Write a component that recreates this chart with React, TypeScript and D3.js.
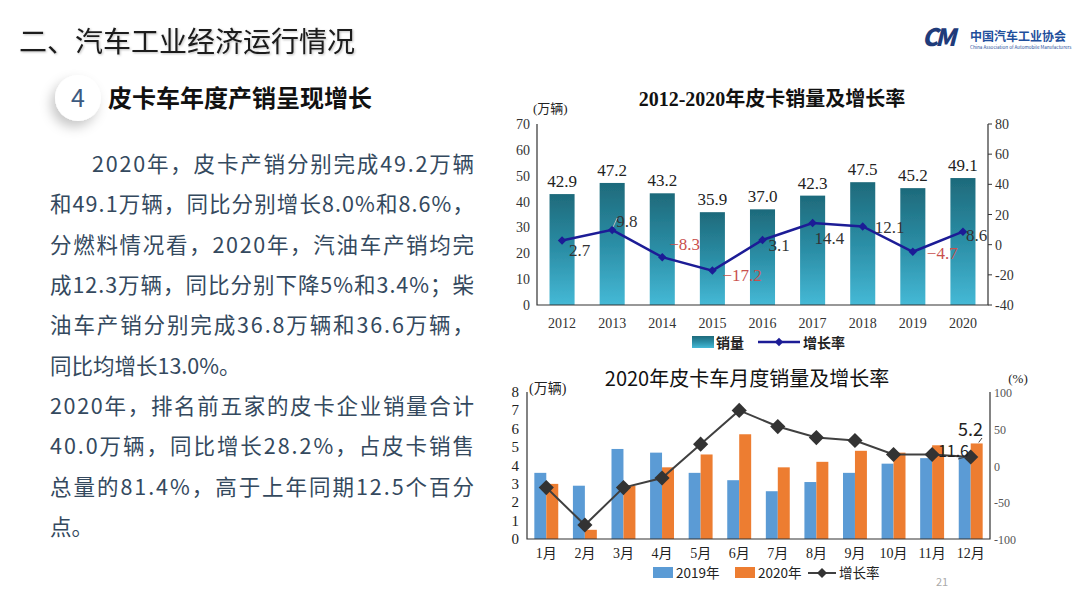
import * as d3 from "d3";
import { useEffect } from "react";

// 年度数据
const years = ["2012", "2013", "2014", "2015", "2016", "2017", "2018", "2019", "2020"];
const yearSales = [42.9, 47.2, 43.2, 35.9, 37.0, 42.3, 47.5, 45.2, 49.1];
const yearRates = [2.7, 9.8, -8.3, -17.2, 3.1, 14.4, 12.1, -4.7, 8.6];
const yearLeftTicks = [0, 10, 20, 30, 40, 50, 60, 70];
const yearRightTicks = [-40, -20, 0, 20, 40, 60, 80];

// 月度数据
const months = ["1月", "2月", "3月", "4月", "5月", "6月", "7月", "8月", "9月", "10月", "11月", "12月"];
const sales2019 = [3.6, 2.9, 4.9, 4.7, 3.6, 3.2, 2.6, 3.1, 3.6, 4.1, 4.4, 4.5];
const sales2020 = [3.0, 0.5, 2.9, 3.9, 4.6, 5.7, 3.9, 4.2, 4.8, 4.7, 5.1, 5.2];
const monthRates = [-30, -81, -30, -17, 29, 75, 53, 38, 34, 15, 15, 11.6];
const monthLeftTicks = [0, 1, 2, 3, 4, 5, 6, 7, 8];
const monthRightTicks = [-100, -50, 0, 50, 100];

const bodyLines = [
  "2020年，皮卡产销分别完成49.2万辆",
  "和49.1万辆，同比分别增长8.0%和8.6%，",
  "分燃料情况看，2020年，汽油车产销均完",
  "成12.3万辆，同比分别下降5%和3.4%；柴",
  "油车产销分别完成36.8万辆和36.6万辆，",
  "同比均增长13.0%。",
  "2020年，排名前五家的皮卡企业销量合计",
  "40.0万辆，同比增长28.2%，占皮卡销售",
  "总量的81.4%，高于上年同期12.5个百分",
  "点。",
];

// label offsets from marker (dx, dy) for growth-rate labels
const rateLabelOffsets: [number, number][] = [
  [7, 15], [4, -3], [7, -7], [10, 10], [6, 11], [2, 21], [12, 7], [14, 7], [3, 9],
];

const serif = "'Liberation Serif', 'Noto Sans CJK SC', serif";
const sans = "'Noto Sans CJK SC', 'Noto Sans', sans-serif";

function diamond(size: number) {
  return d3.symbol(d3.symbolSquare, size)() as string;
}

function YearChart() {
  const x = d3.scaleBand<string>().domain(years).range([537, 988]).paddingInner(0.5).paddingOuter(0.25);
  const yL = d3.scaleLinear().domain([0, 70]).range([305, 124]);
  const yR = d3.scaleLinear().domain([-40, 80]).range([305, 124]);
  const cx = (i: number) => (x(years[i]) ?? 0) + x.bandwidth() / 2;
  const line = d3
    .line<number>()
    .x((_, i) => cx(i))
    .y((d) => yR(d));

  return (
    <g>
      <text x={772} y={106} textAnchor="middle" fontFamily={serif} fontSize={20} fill="#111" fontWeight={600}>
        2012-2020年皮卡销量及增长率
      </text>
      <text x={533} y={113} fontFamily={serif} fontSize={13} fill="#222">
        (万辆)
      </text>
      {/* bars */}
      {yearSales.map((v, i) => (
        <g key={i}>
          <rect
            x={x(years[i])}
            y={yL(v)}
            width={x.bandwidth()}
            height={yL(0) - yL(v)}
            fill="url(#barGrad)"
            filter="url(#soft)"
          />
          <text x={cx(i)} y={yL(v) - 7} textAnchor="middle" fontFamily={serif} fontSize={17} fill="#222">
            {v.toFixed(1)}
          </text>
        </g>
      ))}
      {/* axes */}
      <path d={`M537,${yL(70)}V${yL(0)}H988V${yL(70)}`} fill="none" stroke="#333" strokeWidth={1.2} />
      {yearLeftTicks.map((t) => (
        <text key={t} x={530} y={yL(t) + 5} textAnchor="end" fontFamily={serif} fontSize={14} fill="#333">
          {t}
        </text>
      ))}
      {yearRightTicks.map((t) => (
        <g key={t}>
          <line x1={988} x2={992} y1={yR(t)} y2={yR(t)} stroke="#333" />
          <text x={995} y={yR(t) + 5} fontFamily={serif} fontSize={14} fill="#333">
            {t}
          </text>
        </g>
      ))}
      {years.map((yy, i) => (
        <text key={yy} x={cx(i)} y={328} textAnchor="middle" fontFamily={serif} fontSize={14} fill="#333">
          {yy}
        </text>
      ))}
      {/* rate line */}
      <path d={line(yearRates) ?? ""} fill="none" stroke="#1c1c96" strokeWidth={2.5} />
      {yearRates.map((r, i) => (
        <path key={i} d={diamond(36)} transform={`translate(${cx(i)},${yR(r)}) rotate(45)`} fill="#1c1c96" />
      ))}
      {yearRates.map((r, i) => (
        <text
          key={i}
          x={cx(i) + rateLabelOffsets[i][0]}
          y={yR(r) + rateLabelOffsets[i][1]}
          fontFamily={serif}
          fontSize={17}
          fill={r < 0 ? "#c9504d" : "#333"}
        >
          {r < 0 ? "−" + Math.abs(r).toFixed(1) : r.toFixed(1)}
        </text>
      ))}
      <line x1={cx(1) + 1} y1={yR(yearRates[1]) - 3} x2={cx(1) + 5} y2={yR(yearRates[1]) - 12} stroke="#bbb" />
      {/* legend */}
      <rect x={692} y={336} width={22} height={12} fill="url(#barGrad)" />
      <text x={716} y={348} fontFamily={sans} fontSize={14} fontWeight={700} fill="#222">
        销量
      </text>
      <line x1={758} x2={800} y1={342} y2={342} stroke="#1c1c96" strokeWidth={2.5} />
      <path d={diamond(36)} transform="translate(779,342) rotate(45)" fill="#1c1c96" />
      <text x={803} y={348} fontFamily={sans} fontSize={14} fontWeight={700} fill="#222">
        增长率
      </text>
    </g>
  );
}

function MonthChart() {
  const x = d3.scaleBand<string>().domain(months).range([527, 990]).paddingInner(0.38).paddingOuter(0.19);
  const xs = d3.scaleBand<string>().domain(["2019", "2020"]).range([0, x.bandwidth()]);
  const yL = d3.scaleLinear().domain([0, 8]).range([539, 392]);
  const yR = d3.scaleLinear().domain([-100, 100]).range([539, 392]);
  const cx = (i: number) => (x(months[i]) ?? 0) + x.bandwidth() / 2;
  const line = d3
    .line<number>()
    .x((_, i) => cx(i))
    .y((d) => yR(d));
  const last = months.length - 1;

  return (
    <g>
      <text x={747} y={386} textAnchor="middle" fontFamily={sans} fontSize={20} fill="#111">
        2020年皮卡车月度销量及增长率
      </text>
      <text x={529} y={393} fontFamily={serif} fontSize={14} fill="#222">
        (万辆)
      </text>
      <text x={1018} y={383} textAnchor="middle" fontFamily={serif} fontSize={13} fill="#222">
        (%)
      </text>
      {months.map((m, i) => (
        <g key={m}>
          <rect
            x={(x(m) ?? 0) + (xs("2019") ?? 0)}
            y={yL(sales2019[i])}
            width={xs.bandwidth()}
            height={yL(0) - yL(sales2019[i])}
            fill="#5b9bd5"
          />
          <rect
            x={(x(m) ?? 0) + (xs("2020") ?? 0)}
            y={yL(sales2020[i])}
            width={xs.bandwidth()}
            height={yL(0) - yL(sales2020[i])}
            fill="#ed7d31"
          />
        </g>
      ))}
      <path d={`M527,${yL(8)}V${yL(0)}H990V${yR(100)}`} fill="none" stroke="#333" strokeWidth={1.2} />
      {monthLeftTicks.map((t) => (
        <text key={t} x={519} y={yL(t) + 5} textAnchor="end" fontFamily={serif} fontSize={15} fill="#222">
          {t}
        </text>
      ))}
      {monthRightTicks.map((t) => (
        <text key={t} x={994} y={yR(t) + 5} fontFamily={serif} fontSize={12} fill="#555">
          {t}
        </text>
      ))}
      {months.map((m, i) => (
        <text key={m} x={cx(i)} y={558} textAnchor="middle" fontFamily={serif} fontSize={14} fill="#222">
          {m}
        </text>
      ))}
      <path d={line(monthRates) ?? ""} fill="none" stroke="#404040" strokeWidth={2} />
      {monthRates.map((r, i) => (
        <path key={i} d={diamond(115)} transform={`translate(${cx(i)},${yR(r)}) rotate(45)`} fill="#333" />
      ))}
      {/* annotations on December */}
      <text x={983} y={436} textAnchor="end" fontFamily={sans} fontSize={18} fill="#222">
        {sales2020[last].toFixed(1)}
      </text>
      <line
        x1={982}
        y1={438}
        x2={(x(months[last]) ?? 0) + (xs("2020") ?? 0) + xs.bandwidth() / 2 + 2}
        y2={yL(sales2020[last]) - 1}
        stroke="#444"
      />
      <text x={969} y={457} textAnchor="end" fontFamily={sans} fontSize={16} fill="#222">
        {monthRates[last].toFixed(1)}
      </text>
      <line x1={958} y1={459} x2={cx(last) - 5} y2={yR(monthRates[last])} stroke="#444" />
      {/* legend */}
      <rect x={653} y={567} width={20} height={11} fill="#5b9bd5" />
      <text x={676} y={578} fontFamily={sans} fontSize={13.5} fill="#222">
        2019年
      </text>
      <rect x={735} y={567} width={20} height={11} fill="#ed7d31" />
      <text x={758} y={578} fontFamily={sans} fontSize={13.5} fill="#222">
        2020年
      </text>
      <line x1={808} x2={836} y1={573} y2={573} stroke="#404040" strokeWidth={2} />
      <path d={diamond(50)} transform="translate(822,573) rotate(45)" fill="#333" />
      <text x={839} y={578} fontFamily={sans} fontSize={13.5} fill="#222">
        增长率
      </text>
      <text x={942} y={586} textAnchor="middle" fontFamily={sans} fontSize={11} fill="#aaa">
        21
      </text>
    </g>
  );
}

function TextPanel() {
  const lineY = d3.scaleLinear().domain([0, bodyLines.length - 1]).range([172, 535]);
  const justified = (s: string) => !s.endsWith("。");
  return (
    <g>
      <text x={19} y={52} fontFamily={sans} fontSize={28} fill="#1a1a1a" filter="url(#txtShadow)">
        二、汽车工业经济运行情况
      </text>
      <circle cx={78} cy={98} r={23} fill="#fff" filter="url(#circleShadow)" />
      <text x={78} y={107} textAnchor="middle" fontFamily={sans} fontSize={25} fill="#3d5a80">
        4
      </text>
      <text x={108} y={107} fontFamily={sans} fontSize={24} fontWeight={700} fill="#111">
        皮卡车年度产销呈现增长
      </text>
      {bodyLines.map((s, i) => {
        const x0 = i === 0 ? 92 : 50;
        return (
          <text
            key={i}
            x={x0}
            y={lineY(i)}
            fontFamily={sans}
            fontSize={21.5}
            fill="#34495e"
            textLength={justified(s) ? 474 - x0 : undefined}
            lengthAdjust="spacing"
          >
            {s}
          </text>
        );
      })}
    </g>
  );
}

function Logo() {
  return (
    <g>
      <text x={922} y={46} fontFamily={sans} fontSize={24} fontStyle="italic" fontWeight={900} fill="#1f3b7a" letterSpacing={-3}>
        CM
      </text>
      <text x={970} y={41} fontFamily={sans} fontSize={12} fontWeight={700} fill="#1f4f9c">
        中国汽车工业协会
      </text>
      <text x={970} y={49} fontFamily={sans} fontSize={4.6} fill="#1f4f9c">
        China Association of Automobile Manufacturers
      </text>
    </g>
  );
}

export default function App() {
  useEffect(() => {
    document.body.style.margin = "0";
  }, []);
  return (
    <svg width={1080} height={608} viewBox="0 0 1080 608" style={{ display: "block", background: "#fff" }}>
      <defs>
        <linearGradient id="barGrad" x1="0" y1="0" x2="0" y2="1">
          <stop offset="0" stopColor="#1e6a7b" />
          <stop offset="0.5" stopColor="#2b8ea6" />
          <stop offset="1" stopColor="#45b9d6" />
        </linearGradient>
        <filter id="soft" x="-10%" y="-5%" width="120%" height="110%">
          <feGaussianBlur stdDeviation="0.7" />
        </filter>
        <filter id="circleShadow" x="-80%" y="-80%" width="260%" height="260%">
          <feDropShadow dx="-4" dy="6" stdDeviation="6" floodColor="#000" floodOpacity="0.22" />
        </filter>
        <filter id="txtShadow" x="-5%" y="-30%" width="110%" height="160%">
          <feDropShadow dx="1" dy="1" stdDeviation="0.8" floodColor="#000" floodOpacity="0.25" />
        </filter>
      </defs>
      <TextPanel />
      <Logo />
      <YearChart />
      <MonthChart />
    </svg>
  );
}
